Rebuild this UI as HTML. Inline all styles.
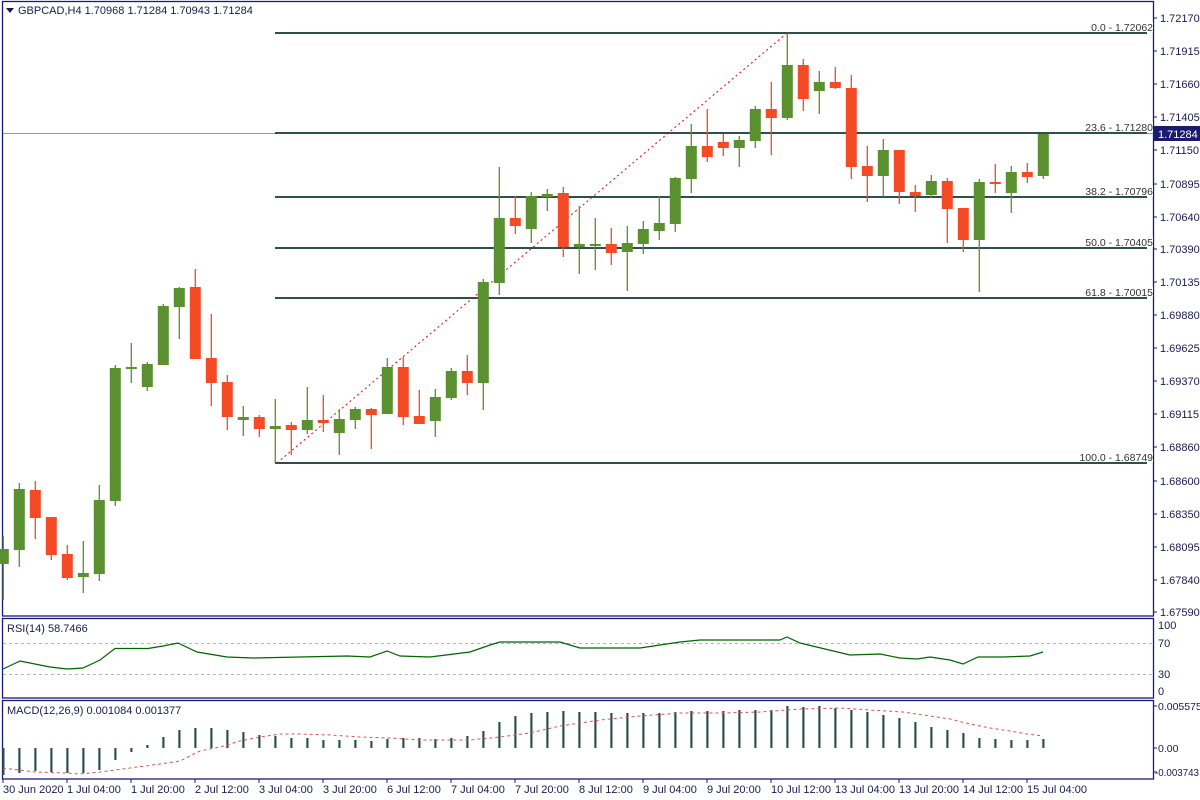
<!DOCTYPE html>
<html><head><meta charset="utf-8"><style>
html,body{margin:0;padding:0;background:#fff;}
svg{display:block;font-family:"Liberation Sans",Tahoma,sans-serif;}
</style></head><body>
<svg id="c" width="1200" height="800" xmlns="http://www.w3.org/2000/svg">
<rect width="1200" height="800" fill="#fff"/>
<g fill="none" stroke="#1a1a80" stroke-width="1.3">
<rect x="2.5" y="1.5" width="1151" height="614.5"/>
<rect x="2.5" y="618.5" width="1151" height="79.5"/>
<rect x="2.5" y="700.5" width="1151" height="78.5"/>
</g>
<g stroke="#b4b4b4" stroke-dasharray="3,3" stroke-width="1">
<line x1="3" y1="643.5" x2="1153" y2="643.5"/>
<line x1="3" y1="674.5" x2="1153" y2="674.5"/>
</g>
<line x1="3" y1="133.5" x2="1153" y2="133.5" stroke="#9a9a9a" stroke-width="1"/>
<g stroke="#2f4f4f" stroke-width="2">
<line x1="275" y1="33" x2="1147" y2="33"/>
<line x1="275" y1="133" x2="1147" y2="133"/>
<line x1="275" y1="197" x2="1147" y2="197"/>
<line x1="275" y1="248" x2="1147" y2="248"/>
<line x1="275" y1="298" x2="1147" y2="298"/>
<line x1="275" y1="463" x2="1147" y2="463"/>
</g>
<line x1="277" y1="463" x2="787" y2="33" stroke="#e00" stroke-width="1" stroke-dasharray="2,3"/>
<g id="cd"></g>
<g font-size="10.5" fill="#333" text-anchor="end">
<rect x="1095" y="22" width="58" height="10" fill="#fff"/><text x="1153" y="31">0.0 - 1.72062</text>
<rect x="1090" y="122" width="63" height="10" fill="#fff"/><text x="1153" y="131">23.6 - 1.71280</text>
<rect x="1090" y="186" width="63" height="10" fill="#fff"/><text x="1153" y="195">38.2 - 1.70796</text>
<rect x="1090" y="237" width="63" height="10" fill="#fff"/><text x="1153" y="246">50.0 - 1.70405</text>
<rect x="1090" y="287" width="63" height="10" fill="#fff"/><text x="1153" y="296">61.8 - 1.70015</text>
<rect x="1085" y="452" width="68" height="10" fill="#fff"/><text x="1153" y="461">100.0 - 1.68749</text>
</g>
<path d="M6 8 L14 8 L10 13 Z" fill="#1a1a50"/>
<text x="18" y="14" font-size="11" fill="#1a1a50">GBPCAD,H4  1.70968 1.71284 1.70943 1.71284</text>
<text x="7" y="632" font-size="11" fill="#1a1a50">RSI(14) 58.7466</text>
<text x="7" y="714" font-size="11" fill="#1a1a50">MACD(12,26,9) 0.001084 0.001377</text>
<g stroke="#1a1a80" stroke-width="1">
<line x1="1153" y1="18" x2="1157" y2="18"/><line x1="1153" y1="51" x2="1157" y2="51"/><line x1="1153" y1="84" x2="1157" y2="84"/><line x1="1153" y1="117" x2="1157" y2="117"/><line x1="1153" y1="150" x2="1157" y2="150"/><line x1="1153" y1="184" x2="1157" y2="184"/><line x1="1153" y1="217" x2="1157" y2="217"/><line x1="1153" y1="249" x2="1157" y2="249"/><line x1="1153" y1="282" x2="1157" y2="282"/><line x1="1153" y1="315" x2="1157" y2="315"/><line x1="1153" y1="348" x2="1157" y2="348"/><line x1="1153" y1="381" x2="1157" y2="381"/><line x1="1153" y1="414" x2="1157" y2="414"/><line x1="1153" y1="447" x2="1157" y2="447"/><line x1="1153" y1="481" x2="1157" y2="481"/><line x1="1153" y1="514" x2="1157" y2="514"/><line x1="1153" y1="547" x2="1157" y2="547"/><line x1="1153" y1="580" x2="1157" y2="580"/><line x1="1153" y1="612" x2="1157" y2="612"/>
<line x1="1153" y1="706" x2="1157" y2="706"/><line x1="1153" y1="748" x2="1157" y2="748"/><line x1="1153" y1="772" x2="1157" y2="772"/>
</g>
<g font-size="11" fill="#1a1a50">
<text x="1160" y="22">1.72170</text><text x="1160" y="55">1.71915</text><text x="1160" y="88">1.71660</text><text x="1160" y="121">1.71405</text><text x="1160" y="154">1.71150</text><text x="1160" y="188">1.70895</text><text x="1160" y="221">1.70640</text><text x="1160" y="253">1.70390</text><text x="1160" y="286">1.70135</text><text x="1160" y="319">1.69880</text><text x="1160" y="352">1.69625</text><text x="1160" y="385">1.69370</text><text x="1160" y="418">1.69115</text><text x="1160" y="451">1.68860</text><text x="1160" y="485">1.68600</text><text x="1160" y="518">1.68350</text><text x="1160" y="551">1.68095</text><text x="1160" y="584">1.67840</text><text x="1160" y="616">1.67590</text>
<text x="1158" y="629">100</text><text x="1158" y="647">70</text><text x="1158" y="678">30</text><text x="1158" y="695">0</text>
<text x="1158" y="710" font-size="10.5">0.005575</text><text x="1158" y="752" font-size="10.5">0.00</text><text x="1155" y="776" font-size="10.5" textLength="44" lengthAdjust="spacingAndGlyphs">-0.003743</text>
</g>
<rect x="1154" y="126" width="46" height="15" fill="#1a1a6e"/>
<text x="1158" y="138" font-size="11" fill="#fff">1.71284</text>
<g stroke="#1a1a80" stroke-width="1">
<line x1="3" y1="779" x2="3" y2="783"/><line x1="67" y1="779" x2="67" y2="783"/><line x1="131" y1="779" x2="131" y2="783"/><line x1="195" y1="779" x2="195" y2="783"/><line x1="259" y1="779" x2="259" y2="783"/><line x1="323" y1="779" x2="323" y2="783"/><line x1="387" y1="779" x2="387" y2="783"/><line x1="451" y1="779" x2="451" y2="783"/><line x1="515" y1="779" x2="515" y2="783"/><line x1="579" y1="779" x2="579" y2="783"/><line x1="643" y1="779" x2="643" y2="783"/><line x1="707" y1="779" x2="707" y2="783"/><line x1="771" y1="779" x2="771" y2="783"/><line x1="835" y1="779" x2="835" y2="783"/><line x1="899" y1="779" x2="899" y2="783"/><line x1="963" y1="779" x2="963" y2="783"/><line x1="1027" y1="779" x2="1027" y2="783"/>
</g>
<g font-size="11" fill="#1a1a50">
<text x="3" y="793">30 Jun 2020</text><text x="67" y="793">1 Jul 04:00</text><text x="131" y="793">1 Jul 20:00</text><text x="195" y="793">2 Jul 12:00</text><text x="259" y="793">3 Jul 04:00</text><text x="323" y="793">3 Jul 20:00</text><text x="387" y="793">6 Jul 12:00</text><text x="451" y="793">7 Jul 04:00</text><text x="515" y="793">7 Jul 20:00</text><text x="579" y="793">8 Jul 12:00</text><text x="643" y="793">9 Jul 04:00</text><text x="707" y="793">9 Jul 20:00</text><text x="771" y="793">10 Jul 12:00</text><text x="835" y="793">13 Jul 04:00</text><text x="899" y="793">13 Jul 20:00</text><text x="963" y="793">14 Jul 12:00</text><text x="1027" y="793">15 Jul 04:00</text>
</g>
</svg>
<script>
var C=[[549,564,536,600,1],[489,550,483,567,1],[490,518,481,539,0],[517,555,517,560,0],[554,578,545,580,0],[573,577,541,593,1],[500,574,485,581,1],[368,501,365,506,1],[367,369,343,383,1],[364,387,362,391,1],[306,365,304,365,1],[288,307,287,339,1],[287,359,269,359,0],[358,383,314,406,0],[382,417,375,430,0],[417,420,406,436,1],[417,429,415,437,0],[426,429,399,463,1],[425,430,422,455,0],[420,430,387,434,1],[420,423,395,432,0],[419,433,409,455,1],[409,420,407,429,1],[409,415,408,449,0],[367,414,358,414,1],[367,417,357,425,0],[416,424,390,424,0],[397,421,389,437,1],[371,398,368,400,1],[371,383,355,395,0],[282,383,279,410,1],[218,283,167,295,1],[218,226,196,234,0],[196,229,192,243,1],[194,197,189,211,1],[193,247,187,257,0],[244,247,206,274,1],[244,246,218,270,1],[244,253,228,265,0],[243,252,226,291,1],[229,244,221,254,1],[223,231,196,240,1],[178,224,177,232,1],[146,179,124,193,1],[146,157,109,162,0],[142,148,134,156,0],[140,148,136,167,1],[109,141,106,148,1],[109,118,82,155,0],[65,118,33,120,1],[65,99,59,111,0],[82,91,71,114,1],[82,88,67,89,0],[88,167,75,179,0],[166,176,146,202,0],[150,176,139,197,1],[150,192,150,204,0],[192,196,185,212,0],[181,195,175,198,1],[181,209,178,243,0],[208,240,208,252,0],[182,240,179,292,1],[182,183,164,193,0],[172,193,166,213,1],[172,177,163,183,0],[134,176,134,179,1]];
var M=[775,773,771,772,773,773,770,760,752,745,737,730,728,728,730,732,735,736,738,738,740,740,740,741,739,738,738,739,738,736,731,722,716,713,712,711,712,712,713,713,713,713,712,711,711,711,710,710,710,706,707,706,708,710,712,715,718,722,727,730,733,738,739,740,740,739];
var s='';
for(var i=0;i<C.length;i++){var c=C[i],x=3.3+16*i,col=c[4]?'#5a9030':'#f24b26';
s+='<line x1="'+x+'" y1="'+c[2]+'" x2="'+x+'" y2="'+c[3]+'" stroke="'+col+'" stroke-width="1.3"/>';
var h=Math.max(c[1]-c[0],2);s+='<rect x="'+(x-5.5)+'" y="'+c[0]+'" width="11" height="'+h+'" fill="'+col+'"/>';
var t=Math.min(M[i],748),b=Math.max(M[i],748);s+='<rect x="'+(x-1)+'" y="'+t+'" width="2.2" height="'+(b-t)+'" fill="#2f4f4f"/>';}
var R=[[3,669],[20,661],[50,667],[67,669],[83,668],[100,660],[115,648.5],[148,648.5],[163,646],[178,643],[197,652],[227,657],[253,658],[300,657],[347,656],[370,657],[387,651],[400,656],[430,657],[470,652],[490,645],[500,642],[560,642],[580,648],[640,648],[680,642],[700,640],[780,640],[787,637],[800,643],[850,655],[880,654],[900,658],[917,659],[930,657],[950,660],[963,664],[978,657],[1003,657],[1030,656],[1043,652]];
s+='<polyline fill="none" stroke="#006400" stroke-width="1.2" points="'+R.map(function(p){return p.join(',')}).join(' ')+'"/>';
var S=[[3,768],[35,772],[67,773],[80,774],[100,772],[130,768],[160,764],[180,761],[200,751],[220,747],[240,741],[260,737],[280,734],[300,734],[330,735],[360,737],[390,738],[420,740],[470,740],[500,737],[530,733],[560,726],[600,720],[640,716],[680,713],[720,713],[760,712],[800,709],[840,708],[870,710],[903,712],[930,716],[950,719],[970,724],[990,728],[1010,731],[1027,734],[1043,736]];
s+='<polyline fill="none" stroke="#d9534f" stroke-width="1" stroke-dasharray="3,3" points="'+S.map(function(p){return p.join(',')}).join(' ')+'"/>';
document.getElementById('cd').innerHTML=s;
</script>
</body></html>
